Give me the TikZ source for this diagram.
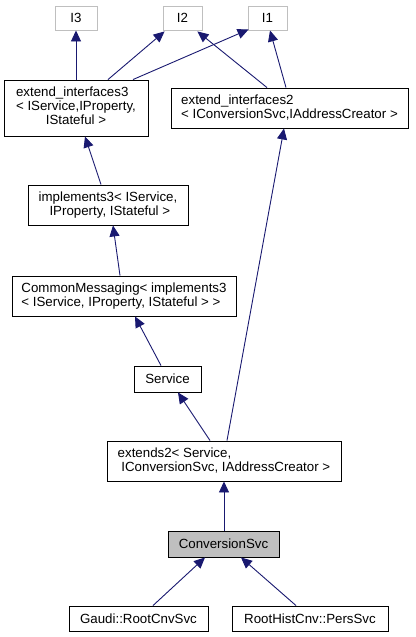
\documentclass[tikz,border=0pt]{standalone}
\usepackage{fontspec}
\setmainfont{Liberation Sans}
\usetikzlibrary{arrows.meta}
\definecolor{edgeblue}{HTML}{191970}
\definecolor{grayline}{HTML}{BFBFBF}
\tikzset{
  box/.style={draw=black, line width=0.9pt, fill=white, inner sep=0pt, font=\fontsize{13.3}{14}\selectfont, text=black},
  ifbox/.style={box, draw=grayline},
  curbox/.style={box, fill=grayline},
  edge/.style={draw=edgeblue, line width=0.9pt, -{Triangle[length=11pt,width=10pt]}, shorten >=0pt},
}
\begin{document}
\begin{tikzpicture}[x=1pt,y=-1pt]
\useasboundingbox (0,0) rectangle (415,637);
\node[ifbox, minimum width=42, minimum height=24] (i3) at (76,18) {I3};
\node[ifbox, minimum width=39, minimum height=24] (i2) at (182.5,18) {I2};
\node[ifbox, minimum width=39, minimum height=24] (i1) at (267.5,18) {I1};
\node[box, minimum width=144, minimum height=56] (ei3) at (76,108)
  {\begin{tabular}{@{}l@{}}extend\_interfaces3\\ < IService,IProperty,\\ \multicolumn{1}{@{}c@{}}{IStateful >}\end{tabular}};
\node[box, minimum width=237, minimum height=40, align=left] (ei2) at (289.5,108)
  {extend\_interfaces2\\ < IConversionSvc,IAddressCreator >};
\node[box, minimum width=160, minimum height=40, align=center] (im3) at (108,205)
  {implements3< IService,\\ \ IProperty, IStateful >};
\node[box, minimum width=224, minimum height=40, align=left] (cm) at (124,296)
  {CommonMessaging< implements3\\ < IService, IProperty, IStateful > >};
\node[box, minimum width=67, minimum height=26] (svc) at (167.5,379) {Service};
\node[box, minimum width=234, minimum height=40, align=left] (ex2) at (224,461)
  {extends2< Service,\\ \ IConversionSvc, IAddressCreator >};
\node[curbox, minimum width=111, minimum height=26] (cs) at (223.5,544) {ConversionSvc};
\node[box, minimum width=139, minimum height=25] (gr) at (138.5,618.5) {Gaudi::RootCnvSvc};
\node[box, minimum width=156, minimum height=25] (rh) at (310,618.5) {RootHistCnv::PersSvc};

\draw[edge] ([xshift=0]ei3.north) -- (i3.south);
\draw[edge] ([xshift=32]ei3.north) -- ([shift={(2,1)}]i2.south west);
\draw[edge] ([xshift=57]ei3.north) -- ([shift={(1,-1)}]i1.south west);
\draw[edge] ([xshift=-22.5]ei2.north) -- ([shift={(-5,1)}]i2.south east);
\draw[edge] ([xshift=-3.5]ei2.north) -- ([xshift=2.5]i1.south);
\draw[edge] ([xshift=-7]im3.north) -- ([xshift=9]ei3.south);
\draw[edge] ([xshift=-4]cm.north) -- ([xshift=5]im3.south);
\draw[edge] ([xshift=-6.5]svc.north) -- ([xshift=11]cm.south);
\draw[edge] ([xshift=-14]ex2.north) -- ([xshift=10.5]svc.south);
\draw[edge] ([xshift=3]ex2.north) -- ([xshift=-5.5]ei2.south);
\draw[edge] ([xshift=0.5]cs.north) -- ([xshift=0]ex2.south);
\draw[edge] ([xshift=14.5]gr.north) -- ([xshift=-18.5]cs.south);
\draw[edge] ([xshift=-14]rh.north) -- ([xshift=17.5]cs.south);
\end{tikzpicture}
\end{document}
